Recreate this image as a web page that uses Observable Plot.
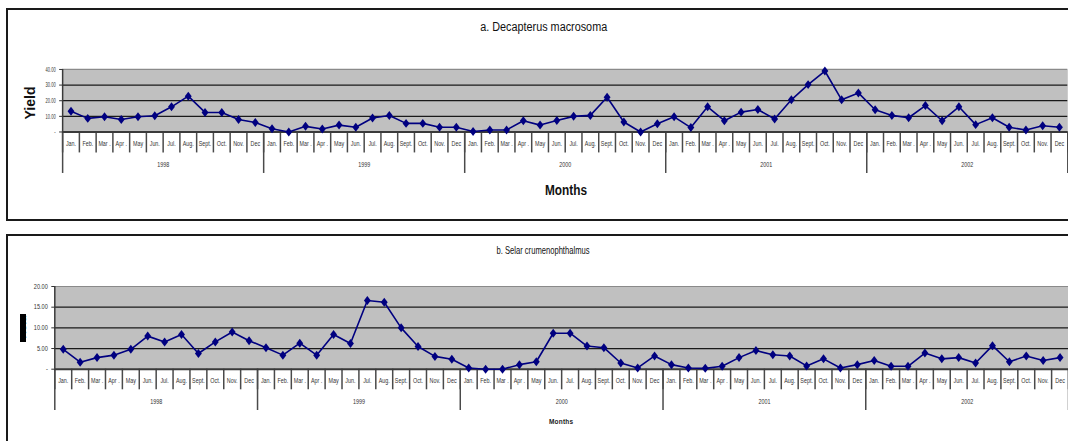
<!DOCTYPE html>
<html>
<head>
<meta charset="utf-8">
<script src="https://cdn.jsdelivr.net/npm/d3@7"></script>
<script src="https://cdn.jsdelivr.net/npm/@observablehq/plot@0.6"></script>
<style>
  html, body { margin: 0; padding: 0; background: #fff; }
  #page { position: relative; width: 1068px; height: 441px; overflow: hidden; background: #fff;
          font-family: "Liberation Sans", Arial, sans-serif; }
  .box { position: absolute; border: 2px solid #1a1a1a; box-sizing: border-box; }
  .plot { position: absolute; left: 0; }
  #overlay { position: absolute; left: 0; top: 0; pointer-events: none; }
</style>
</head>
<body>
<div id="page">
  <div class="box" style="left:6px; top:8px; width:1075px; height:213px;"></div>
  <div class="box" style="left:6px; top:234px; width:1075px; height:240px;"></div>
  <div id="plotA" class="plot" style="top:55px;"></div>
  <div id="plotB" class="plot" style="top:270px;"></div>
  <svg id="overlay" width="1068" height="441" font-family="Liberation Sans, Arial, sans-serif">
    <text x="543.7" y="27.3" font-size="12.5" text-anchor="middle" dominant-baseline="central" textLength="127" lengthAdjust="spacingAndGlyphs" fill="#111">a. Decapterus macrosoma</text>
    <text transform="translate(29,103) rotate(-90)" font-size="15" font-weight="bold" text-anchor="middle" dominant-baseline="central" textLength="33" lengthAdjust="spacingAndGlyphs" fill="#111">Yield</text>
    <text x="566" y="190" font-size="14" font-weight="bold" text-anchor="middle" dominant-baseline="central" textLength="42" lengthAdjust="spacingAndGlyphs" fill="#111">Months</text>
    <text x="543" y="249.7" font-size="11" text-anchor="middle" dominant-baseline="central" textLength="93" lengthAdjust="spacingAndGlyphs" fill="#111">b. Selar crumenophthalmus</text>
    <rect x="20" y="314" width="6" height="28" fill="#000"></rect>
    <text transform="translate(23,328) rotate(-90)" font-size="7" font-weight="bold" text-anchor="middle" dominant-baseline="central" textLength="26" lengthAdjust="spacingAndGlyphs" fill="#000">Yield</text>
    <text x="561" y="421.7" font-size="6.5" font-weight="bold" text-anchor="middle" dominant-baseline="central" textLength="24" lengthAdjust="spacing" fill="#222">Months</text>
  </svg>
</div>
<script>
// ---------- data ----------
const monthLabels = ["Jan.", "Feb.", "Mar .", "Apr .", "May", "Jun.", "Jul.", "Aug.", "Sept.", "Oct.", "Nov.", "Dec"];
const years = ["1998", "1999", "2000", "2001", "2002"];
const yTicksA = [0, 10, 20, 30, 40];
const yTicksB = [0, 5, 10, 15, 20];

// a. Decapterus macrosoma (monthly yield, Jan 1998 – Dec 2002)
const decapterus = [
  13.3, 8.7, 9.7, 8.0, 9.7, 10.4, 16.1, 22.9, 12.5, 12.5, 8.0, 6.1,
  2.1, 0.0, 3.6, 1.9, 4.4, 3.0, 8.9, 10.6, 5.5, 5.5, 3.0, 3.0,
  0.3, 1.3, 1.3, 7.2, 4.4, 7.4, 10.0, 10.6, 22.2, 6.4, 0.0, 5.3,
  9.7, 2.8, 16.1, 7.2, 12.7, 14.4, 8.3, 20.6, 30.3, 39.0, 20.6, 25.0,
  14.2, 10.6, 9.1, 16.9, 7.2, 16.1, 4.7, 9.1, 3.0, 1.3, 4.0, 3.0
];
// b. Selar crumenophthalmus
const selar = [
  4.8, 1.7, 2.8, 3.4, 4.8, 8.0, 6.6, 8.4, 3.8, 6.6, 9.0, 6.9,
  5.2, 3.4, 6.3, 3.4, 8.4, 6.2, 16.6, 16.2, 10.0, 5.5, 3.1, 2.4,
  0.3, 0.0, 0.0, 1.1, 1.8, 8.7, 8.7, 5.6, 5.2, 1.5, 0.3, 3.2,
  1.1, 0.3, 0.2, 0.7, 2.8, 4.5, 3.5, 3.2, 0.8, 2.5, 0.3, 1.1,
  2.1, 0.7, 0.7, 3.9, 2.5, 2.8, 1.5, 5.7, 1.8, 3.2, 2.1, 2.8
];

// ---------- helpers ----------
const navy = "#000080";
const diamond = {
  draw(ctx, size) {
    const r = Math.sqrt(size / Math.PI);
    const w = r * 1.15, h = r * 1.5;
    ctx.moveTo(0, -h); ctx.lineTo(w, 0); ctx.lineTo(0, h); ctx.lineTo(-w, 0); ctx.closePath();
  }
};

function panel(cfg) {
  const table = cfg.values.map((v, i) => ({i, v}));
  const monthIdx = d3.range(cfg.values.length);
  const yearStarts = years.map((_, k) => k * 12);
  const fmt = d => d === 0 ? "-" : d.toFixed(2);
  const top = cfg.yTicks[cfg.yTicks.length - 1];
  return Plot.plot({
    width: cfg.width,
    height: cfg.height,
    marginLeft: cfg.marginLeft,
    marginRight: cfg.marginRight,
    marginTop: cfg.marginTop,
    marginBottom: cfg.marginBottom,
    style: {fontFamily: "Liberation Sans, Arial, sans-serif", fontSize: "7px", background: "transparent", overflow: "visible", color: "#333"},
    x: {domain: [0, cfg.values.length], axis: null},
    y: {domain: [0, top], axis: null},
    marks: [
      Plot.frame({fill: "#c0c0c0", stroke: null}),
      Plot.ruleY(cfg.yTicks.filter(t => t > 0 && t < top), {stroke: "#1a1a1a", strokeWidth: 1.2}),
      Plot.ruleY([top], {stroke: "#8a8a8a", strokeWidth: 1.2}),
      // month separators
      Plot.axisX(d3.range(0, cfg.values.length + 1), {tickSize: cfg.sep, tickFormat: () => "", stroke: "#4a4a4a", strokeWidth: 1.5, label: null}),
      // year separators
      Plot.axisX([...yearStarts, cfg.values.length], {tickSize: cfg.yearSep, tickFormat: () => "", stroke: "#4a4a4a", strokeWidth: 1.5, label: null}),
      Plot.ruleY([0], {stroke: "#3a3a3a", strokeWidth: 2}),
      Plot.ruleX([0], {stroke: "#3a3a3a", strokeWidth: 1.5}),
      Plot.axisY(cfg.yTicks, {tickSize: 3, tickPadding: 4, tickFormat: fmt, fontSize: cfg.tickFont, stroke: "#333", fill: "#333", label: null}),
      // month labels
      Plot.text(monthIdx, {x: d => d + 0.5, frameAnchor: "bottom", dy: cfg.monthDy, text: d => monthLabels[d % 12], fontSize: 7, fill: "#333"}),
      // year labels
      Plot.text(years, {x: (d, k) => k * 12 + 6, frameAnchor: "bottom", dy: cfg.yearDy, text: d => d, fontSize: 7, fill: "#333"}),
      Plot.line(table, {x: d => d.i + 0.5, y: "v", stroke: navy, strokeWidth: 1.6}),
      Plot.dot(table, {x: d => d.i + 0.5, y: "v", symbol: diamond, r: 3, fill: navy, stroke: null})
    ]
  });
}

function condense(svg, selector, factor) {
  svg.querySelectorAll(selector).forEach(t => {
    const len = t.getComputedTextLength();
    if (len > 0) {
      t.setAttribute("textLength", (len * factor).toFixed(2));
      t.setAttribute("lengthAdjust", "spacingAndGlyphs");
    }
  });
}

const svgA = panel({
  values: decapterus, yTicks: yTicksA,
  width: 1071, height: 150, marginLeft: 62.3, marginRight: 0.7, marginTop: 14, marginBottom: 73.3,
  sep: 21, yearSep: 41.6, monthDy: 14, yearDy: 35, tickFont: 7
});
document.getElementById("plotA").appendChild(svgA);

const svgB = panel({
  values: selar, yTicks: yTicksB,
  width: 1068, height: 160, marginLeft: 54.3, marginRight: 0, marginTop: 16, marginBottom: 61.3,
  sep: 20.6, yearSep: 41.3, monthDy: 14, yearDy: 34.6, tickFont: 7
});
document.getElementById("plotB").appendChild(svgB);

condense(svgA, 'g[aria-label="text"] text', 0.77);
condense(svgB, 'g[aria-label="text"] text', 0.77);
condense(svgA, 'g[aria-label="y-axis tick label"] text', 0.58);
condense(svgB, 'g[aria-label="y-axis tick label"] text', 0.8);
</script>
</body>
</html>
